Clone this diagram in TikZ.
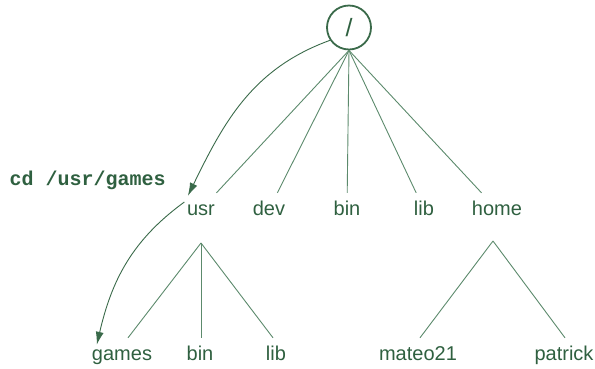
\documentclass[tikz,border=0pt]{standalone}
\usepackage{fontspec}
\setmainfont{Liberation Sans}
\setmonofont{Liberation Mono}
\usetikzlibrary{arrows.meta}
\definecolor{treeText}{HTML}{2F6040}
\definecolor{treeLine}{HTML}{5C8A6C}
\definecolor{treeDark}{HTML}{3A6A4A}

\begin{document}
\begin{tikzpicture}[x=1pt,y=-1pt,>={Latex[length=13pt,width=8pt]},
  font=\fontsize{20}{24}\selectfont,
  dir/.style={text=treeText,anchor=base,text height=15pt,text depth=4pt,inner xsep=4pt,inner ysep=7pt},
  branch/.style={draw=treeLine,line width=0.9pt},
  move/.style={->,draw=treeDark,line width=0.9pt}]
\useasboundingbox (0,0) rectangle (595,368);
% root of the tree
\node[circle,draw=treeDark,line width=1.8pt,minimum size=44pt,inner sep=0pt,text=treeText,
  font=\fontsize{25}{28}\selectfont] (root) at (349,27.5) {/};
% first level
\node[dir] (usr) at (201,215) {usr};
\node[dir] (dev) at (269,215) {dev};
\node[dir] (bin) at (347,215) {bin};
\node[dir] (lib) at (424,215) {lib};
\node[dir] (home) at (497,215) {home};
\foreach \d in {usr,dev,bin,lib,home}
  \draw[branch] (root.south) -- (\d);
% second level
\node[dir] (games) at (122,360) {games};
\node[dir] (ubin) at (200,360) {bin};
\node[dir] (ulib) at (276,360) {lib};
\node[dir] (mateo) at (418,360) {mateo21};
\node[dir] (patrick) at (564,360) {patrick};
\coordinate (usrfork) at (201,243);
\coordinate (homefork) at (493,241);
\draw[branch] (usrfork) -- ([xshift=6pt]games.north);
\draw[branch] (usrfork) -- ([xshift=1pt]ubin.north);
\draw[branch] (usrfork) -- ([xshift=-3pt]ulib.north);
\draw[branch] (homefork) -- ([xshift=2pt]mateo.north);
\draw[branch] (homefork) -- ([xshift=1pt]patrick.north);
% the cd command
\node[text=treeText,anchor=base west,font=\fontsize{20}{24}\selectfont\ttfamily\bfseries] (cmd) at (6,185) {cd /usr/games};
\draw[move] (root.214) to[out=200,in=64] ([xshift=5pt,yshift=-3pt]usr.north west);
\draw[move] ([xshift=1.5pt,yshift=7.5pt]usr.west) to[out=216,in=77] ([xshift=9pt,yshift=-7pt]games.north west);
\end{tikzpicture}
\end{document}
